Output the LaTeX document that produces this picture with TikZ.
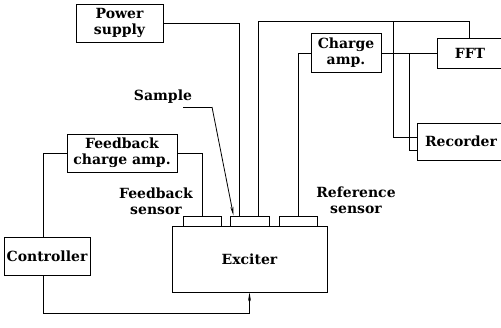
\documentclass[tikz,border=0pt]{standalone}
\usepackage{fontspec}
\setmainfont{DejaVu Serif}
\usetikzlibrary{arrows.meta,calc}
\begin{document}
\begin{tikzpicture}[x=1pt,y=-1pt,
  every node/.style={font=\fontsize{14}{16}\selectfont\bfseries},
  blk/.style={draw,line width=0.8pt,inner sep=0pt,align=center},
  wire/.style={line width=0.8pt},
  lbl/.style={align=center,inner sep=0pt}]
\useasboundingbox (0,0) rectangle (501,327);
% blocks
\node[blk,minimum width=87,minimum height=38] (power) at (119.5,23) {Power\\supply};
\node[blk,minimum width=70,minimum height=39] (ca) at (346,53) {Charge\\amp.};
\node[blk,minimum width=66,minimum height=30] (fft) at (470,53) {FFT};
\node[blk,minimum width=88,minimum height=37] (rec) at (461,141.5) {Recorder};
\node[blk,minimum width=110,minimum height=38] (fca) at (122,153) {Feedback\\charge amp.};
\node[blk,minimum width=86,minimum height=38] (ctrl) at (47,256) {Controller};
\node[blk,minimum width=155,minimum height=66] (exc) at (249.5,259) {Exciter};
% sensors
\node[blk,minimum width=38,minimum height=10] (fs) at (202,221) {};
\node[blk,minimum width=39,minimum height=10] (ss) at (249.5,221) {};
\node[blk,minimum width=38,minimum height=10] (rs) at (298,221) {};
% labels
\node[lbl] (samp) at (163,97) {Sample};
\node[lbl] (fsl) at (156,201) {Feedback\\sensor};
\node[lbl] (rsl) at (356,200) {Reference\\sensor};
% bend coordinates
\coordinate (t1) at (469,21);
\coordinate (j1) at (393,21);
\coordinate (j2) at (409,53);
\coordinate (s1) at (183,107);
\coordinate (s2) at (212,107);
\coordinate (c1) at (43,313);
% connectors
\draw[wire] (power.east) -| ([xshift=-10.5]ss.north);
\draw[wire] ([xshift=8.5]ss.north) |- (t1) -- (t1 |- fft.north);
\draw[wire] (j1) |- ([yshift=4.5]rec.west);
\draw[wire] (ca.east) -- (fft.west);
\draw[wire] (j2) |- ([yshift=-8.5]rec.west);
\draw[wire] (ca.west) -| (rs.north);
\draw[wire] (fca.east) -| (fs.north);
\draw[wire] (fca.west) -| ([xshift=-4]ctrl.north);
\draw[wire] ([xshift=-4]ctrl.south) |- (c1 -| exc.south);
\draw[wire,-{Stealth[length=9pt,width=3pt]}] (c1 -| exc.south) -- (exc.south);
\draw[wire] (s1) -- (s2);
\draw[wire,-{Stealth[length=9pt,width=3pt]}] (s2) -- ([xshift=-16]ss.north);
\end{tikzpicture}
\end{document}
